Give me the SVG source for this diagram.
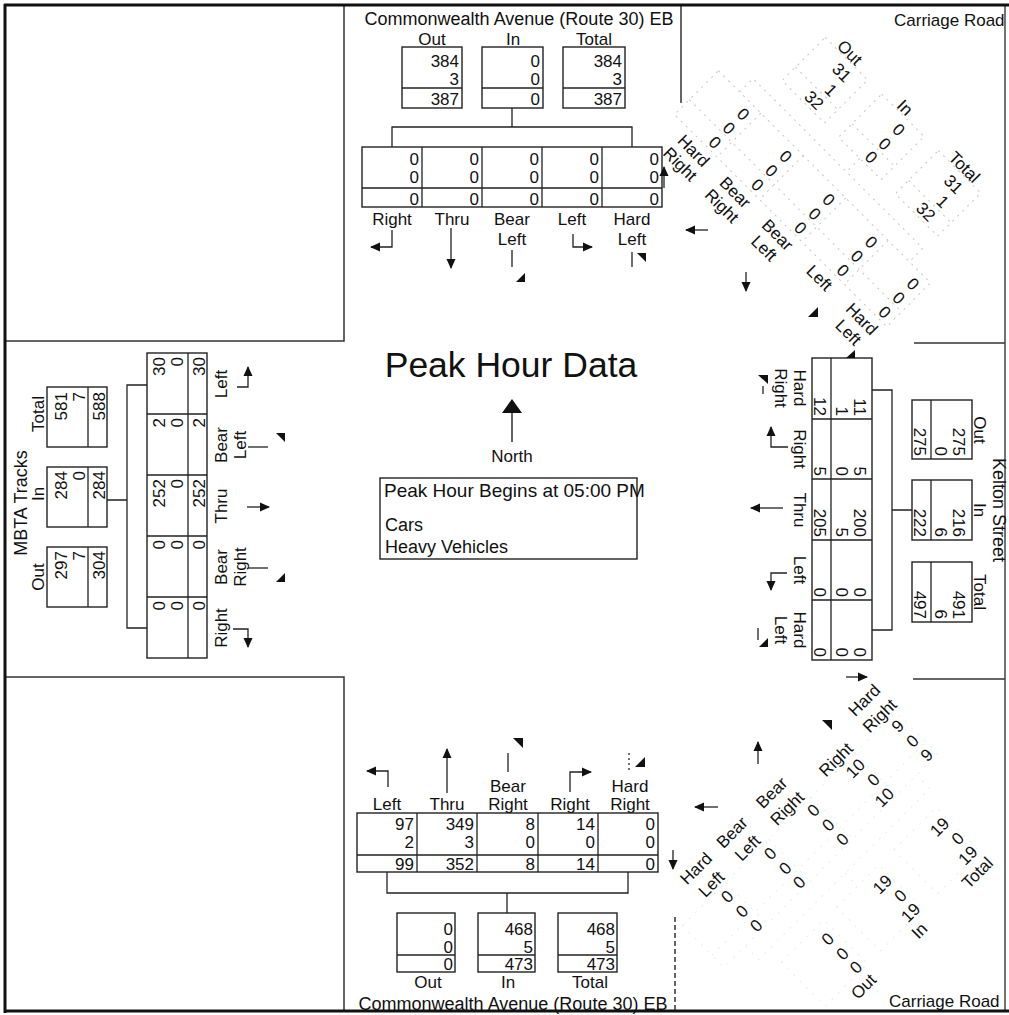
<svg xmlns="http://www.w3.org/2000/svg" width="1009" height="1015" viewBox="0 0 1009 1015">
<style>
text{font-family:"Liberation Sans",Arial,sans-serif;font-size:17px;fill:#111}
.v{text-anchor:end}
.c{text-anchor:middle}
.rd{font-size:18px}
.bx{fill:none;stroke:#222;stroke-width:1.4}
.ln{fill:none;stroke:#222;stroke-width:1.3}
.fr{fill:none;stroke:#111;stroke-width:3}
.qd{fill:none;stroke:#333;stroke-width:1.5}
.fa{fill:none;stroke:#c6c6c6;stroke-width:1;stroke-dasharray:2 5}
.fb{fill:none;stroke:#ebebeb;stroke-width:1;stroke-dasharray:2 7}
.ar{fill:none;stroke:#222;stroke-width:1.3;marker-end:url(#ah)}
.tri{fill:#111;stroke:none}
</style>
<defs>
<marker id="ah" viewBox="0 0 10 10" refX="9" refY="5" markerWidth="10" markerHeight="10" markerUnits="userSpaceOnUse" orient="auto">
<path d="M0,0.5 L10,5 L0,9.5 z" fill="#111"/>
</marker>
</defs>
<rect width="1009" height="1015" fill="#fff"/>

<!-- frame and quadrant lines -->
<g id="frame">
<path class="qd" d="M344,5 V341 H5"/>
<path class="qd" d="M5,677 H344 V1010"/>
<path class="qd" d="M681,5 V103"/>
<path class="qd" d="M914,343 H1005"/>
<path class="qd" d="M913,679 H1005"/>
<path class="qd" d="M675,917 V1010" stroke-dasharray="5 3"/>
<line x1="1005" y1="5" x2="1005" y2="1010" stroke="#444" stroke-width="1.5"/>
</g>

<!-- North approach -->
<g id="node-north-commonwealth">
<text class="c rd" x="519" y="25">Commonwealth Avenue (Route 30) EB</text>
<text class="c" x="432" y="45">Out</text>
<text class="c" x="513" y="45">In</text>
<text class="c" x="594" y="45">Total</text>
<rect class="bx" x="402" y="47" width="60" height="61"/><line class="ln" x1="402" y1="88" x2="462" y2="88"/>
<rect class="bx" x="482" y="47" width="61" height="61"/><line class="ln" x1="482" y1="88" x2="543" y2="88"/>
<rect class="bx" x="563" y="47" width="62" height="61"/><line class="ln" x1="563" y1="88" x2="625" y2="88"/>
<text class="v" x="459" y="67">384</text><text class="v" x="459" y="85">3</text><text class="v" x="459" y="105">387</text>
<text class="v" x="540" y="67">0</text><text class="v" x="540" y="85">0</text><text class="v" x="540" y="105">0</text>
<text class="v" x="622" y="67">384</text><text class="v" x="622" y="85">3</text><text class="v" x="622" y="105">387</text>
<rect class="bx" x="362" y="147" width="300" height="60"/>
<path class="ln" d="M362,188 H662 M422,147 V207 M482,147 V207 M542,147 V207 M602,147 V207"/>
<text class="v" x="419" y="165">0</text><text class="v" x="419" y="183">0</text><text class="v" x="419" y="205">0</text>
<text class="v" x="479" y="165">0</text><text class="v" x="479" y="183">0</text><text class="v" x="479" y="205">0</text>
<text class="v" x="539" y="165">0</text><text class="v" x="539" y="183">0</text><text class="v" x="539" y="205">0</text>
<text class="v" x="599" y="165">0</text><text class="v" x="599" y="183">0</text><text class="v" x="599" y="205">0</text>
<text class="v" x="659" y="165">0</text><text class="v" x="659" y="183">0</text><text class="v" x="659" y="205">0</text>
<text class="c" x="392" y="225">Right</text>
<text class="c" x="452" y="225">Thru</text>
<text class="c" x="512" y="225">Bear</text><text class="c" x="512" y="245">Left</text>
<text class="c" x="572" y="225">Left</text>
<text class="c" x="632" y="225">Hard</text><text class="c" x="632" y="245">Left</text>
</g>

<!-- NE approach (Carriage Road) -->
<g id="node-ne-carriage">
<text x="894" y="26">Carriage Road</text>
<g transform="rotate(45)">
<rect class="fa" x="610" y="-557" width="60" height="61"/><line class="fa" x1="610" y1="-515" x2="670" y2="-515"/>
<rect class="fa" x="690" y="-557" width="60" height="61"/><line class="fa" x1="690" y1="-515" x2="750" y2="-515"/>
<rect class="fa" x="770" y="-557" width="60" height="61"/><line class="fa" x1="770" y1="-515" x2="830" y2="-515"/>
<rect class="fa" x="558" y="-458" width="300" height="62"/>
<path class="fa" d="M558,-417 H858 M618,-458 V-396 M678,-458 V-396 M738,-458 V-396 M798,-458 V-396"/>
<path class="fa" d="M720,-496 V-477 M588,-458 V-477 H828 V-458"/>
<text class="c" x="638" y="-558">Out</text>
<text class="c" x="716" y="-558">In</text>
<text class="c" x="800" y="-558">Total</text>
<text class="v" x="656" y="-538">31</text><text class="v" x="656" y="-518">1</text><text class="v" x="656" y="-499">32</text>
<text class="v" x="732" y="-538">0</text><text class="v" x="732" y="-518">0</text><text class="v" x="732" y="-499">0</text>
<text class="v" x="814" y="-538">31</text><text class="v" x="814" y="-518">1</text><text class="v" x="814" y="-499">32</text>
<text class="v" x="611" y="-439">0</text><text class="v" x="611" y="-419">0</text><text class="v" x="611" y="-399">0</text>
<text class="v" x="671" y="-439">0</text><text class="v" x="671" y="-419">0</text><text class="v" x="671" y="-399">0</text>
<text class="v" x="732" y="-439">0</text><text class="v" x="732" y="-419">0</text><text class="v" x="732" y="-399">0</text>
<text class="v" x="792" y="-439">0</text><text class="v" x="792" y="-419">0</text><text class="v" x="792" y="-399">0</text>
<text class="v" x="851" y="-439">0</text><text class="v" x="851" y="-419">0</text><text class="v" x="851" y="-399">0</text>
<text class="c" x="597" y="-378">Hard</text><text class="c" x="597" y="-359">Right</text>
<text class="c" x="656" y="-378">Bear</text><text class="c" x="656" y="-359">Right</text>
<text class="c" x="716" y="-378">Bear</text><text class="c" x="716" y="-359">Left</text>
<text class="c" x="776" y="-377">Left</text>
<text class="c" x="835" y="-378">Hard</text><text class="c" x="835" y="-359">Left</text>
</g>
</g>

<!-- West approach (MBTA Tracks) -->
<g id="node-west-mbta">
<text class="c rd" transform="translate(27,503) rotate(-90)">MBTA Tracks</text>
<text class="c" transform="translate(44,414) rotate(-90)">Total</text>
<text class="c" transform="translate(44,494) rotate(-90)">In</text>
<text class="c" transform="translate(44,577) rotate(-90)">Out</text>
<rect class="bx" x="47" y="387" width="60" height="60"/><line class="ln" x1="88" y1="387" x2="88" y2="447"/>
<rect class="bx" x="47" y="467" width="60" height="60"/><line class="ln" x1="88" y1="467" x2="88" y2="527"/>
<rect class="bx" x="47" y="547" width="60" height="60"/><line class="ln" x1="88" y1="547" x2="88" y2="607"/>
<text class="v" transform="translate(67,392) rotate(-90)">581</text><text class="v" transform="translate(85,392) rotate(-90)">7</text><text class="v" transform="translate(105,392) rotate(-90)">588</text>
<text class="v" transform="translate(67,471) rotate(-90)">284</text><text class="v" transform="translate(85,471) rotate(-90)">0</text><text class="v" transform="translate(105,471) rotate(-90)">284</text>
<text class="v" transform="translate(67,551) rotate(-90)">297</text><text class="v" transform="translate(85,551) rotate(-90)">7</text><text class="v" transform="translate(105,551) rotate(-90)">304</text>
<rect class="bx" x="147" y="353" width="60" height="305"/>
<path class="ln" d="M188,353 V658 M147,414 H207 M147,475 H207 M147,536 H207 M147,597 H207"/>
<text class="v" transform="translate(165,357) rotate(-90)">30</text><text class="v" transform="translate(183,357) rotate(-90)">0</text><text class="v" transform="translate(205,357) rotate(-90)">30</text>
<text class="v" transform="translate(165,418) rotate(-90)">2</text><text class="v" transform="translate(183,418) rotate(-90)">0</text><text class="v" transform="translate(205,418) rotate(-90)">2</text>
<text class="v" transform="translate(165,479) rotate(-90)">252</text><text class="v" transform="translate(183,479) rotate(-90)">0</text><text class="v" transform="translate(205,479) rotate(-90)">252</text>
<text class="v" transform="translate(165,540) rotate(-90)">0</text><text class="v" transform="translate(183,540) rotate(-90)">0</text><text class="v" transform="translate(205,540) rotate(-90)">0</text>
<text class="v" transform="translate(165,601) rotate(-90)">0</text><text class="v" transform="translate(183,601) rotate(-90)">0</text><text class="v" transform="translate(205,601) rotate(-90)">0</text>
<text class="c" transform="translate(227,384) rotate(-90)">Left</text>
<text class="c" transform="translate(227,445) rotate(-90)">Bear</text><text class="c" transform="translate(246,445) rotate(-90)">Left</text>
<text class="c" transform="translate(227,506) rotate(-90)">Thru</text>
<text class="c" transform="translate(227,567) rotate(-90)">Bear</text><text class="c" transform="translate(246,567) rotate(-90)">Right</text>
<text class="c" transform="translate(227,628) rotate(-90)">Right</text>
</g>

<!-- East approach (Kelton Street) -->
<g id="node-east-kelton">
<text class="c rd" transform="translate(993,510) rotate(90)">Kelton Street</text>
<text class="c" transform="translate(974,430) rotate(90)">Out</text>
<text class="c" transform="translate(974,510) rotate(90)">In</text>
<text class="c" transform="translate(974,592) rotate(90)">Total</text>
<rect class="bx" x="912" y="400" width="60" height="59"/><line class="ln" x1="931" y1="400" x2="931" y2="459"/>
<rect class="bx" x="912" y="480" width="60" height="60"/><line class="ln" x1="931" y1="480" x2="931" y2="540"/>
<rect class="bx" x="912" y="562" width="60" height="60"/><line class="ln" x1="931" y1="562" x2="931" y2="622"/>
<text class="v" transform="translate(953,456) rotate(90)">275</text><text class="v" transform="translate(935,456) rotate(90)">0</text><text class="v" transform="translate(914,456) rotate(90)">275</text>
<text class="v" transform="translate(953,537) rotate(90)">216</text><text class="v" transform="translate(935,537) rotate(90)">6</text><text class="v" transform="translate(914,537) rotate(90)">222</text>
<text class="v" transform="translate(953,619) rotate(90)">491</text><text class="v" transform="translate(935,619) rotate(90)">6</text><text class="v" transform="translate(914,619) rotate(90)">497</text>
<rect class="bx" x="812" y="358" width="60" height="302"/>
<path class="ln" d="M831,358 V660 M812,419 H872 M812,479 H872 M812,540 H872 M812,600 H872"/>
<text class="v" transform="translate(854,416) rotate(90)">11</text><text class="v" transform="translate(836,416) rotate(90)">1</text><text class="v" transform="translate(814,416) rotate(90)">12</text>
<text class="v" transform="translate(854,476) rotate(90)">5</text><text class="v" transform="translate(836,476) rotate(90)">0</text><text class="v" transform="translate(814,476) rotate(90)">5</text>
<text class="v" transform="translate(854,537) rotate(90)">200</text><text class="v" transform="translate(836,537) rotate(90)">5</text><text class="v" transform="translate(814,537) rotate(90)">205</text>
<text class="v" transform="translate(854,597) rotate(90)">0</text><text class="v" transform="translate(836,597) rotate(90)">0</text><text class="v" transform="translate(814,597) rotate(90)">0</text>
<text class="v" transform="translate(854,657) rotate(90)">0</text><text class="v" transform="translate(836,657) rotate(90)">0</text><text class="v" transform="translate(814,657) rotate(90)">0</text>
<text class="c" transform="translate(794,388) rotate(90)">Hard</text><text class="c" transform="translate(775,388) rotate(90)">Right</text>
<text class="c" transform="translate(794,449) rotate(90)">Right</text>
<text class="c" transform="translate(794,510) rotate(90)">Thru</text>
<text class="c" transform="translate(794,570) rotate(90)">Left</text>
<text class="c" transform="translate(794,630) rotate(90)">Hard</text><text class="c" transform="translate(775,630) rotate(90)">Left</text>
</g>

<!-- South approach -->
<g id="node-south-commonwealth">
<text class="c" x="387" y="810">Left</text>
<text class="c" x="447" y="810">Thru</text>
<text class="c" x="508" y="792">Bear</text><text class="c" x="508" y="810">Right</text>
<text class="c" x="570" y="810">Right</text>
<text class="c" x="630" y="792">Hard</text><text class="c" x="630" y="810">Right</text>
<rect class="bx" x="357" y="813" width="301" height="59"/>
<path class="ln" d="M357,855 H658 M417,813 V872 M477,813 V872 M538,813 V872 M598,813 V872"/>
<text class="v" x="414" y="830">97</text><text class="v" x="414" y="848">2</text><text class="v" x="414" y="870">99</text>
<text class="v" x="474" y="830">349</text><text class="v" x="474" y="848">3</text><text class="v" x="474" y="870">352</text>
<text class="v" x="535" y="830">8</text><text class="v" x="535" y="848">0</text><text class="v" x="535" y="870">8</text>
<text class="v" x="595" y="830">14</text><text class="v" x="595" y="848">0</text><text class="v" x="595" y="870">14</text>
<text class="v" x="655" y="830">0</text><text class="v" x="655" y="848">0</text><text class="v" x="655" y="870">0</text>
<rect class="bx" x="397" y="913" width="58" height="59"/><line class="ln" x1="397" y1="955" x2="455" y2="955"/>
<rect class="bx" x="478" y="913" width="57" height="59"/><line class="ln" x1="478" y1="955" x2="535" y2="955"/>
<rect class="bx" x="558" y="913" width="59" height="59"/><line class="ln" x1="558" y1="955" x2="617" y2="955"/>
<text class="v" x="453" y="935">0</text><text class="v" x="453" y="953">0</text><text class="v" x="453" y="970">0</text>
<text class="v" x="533" y="935">468</text><text class="v" x="533" y="953">5</text><text class="v" x="533" y="970">473</text>
<text class="v" x="615" y="935">468</text><text class="v" x="615" y="953">5</text><text class="v" x="615" y="970">473</text>
<text class="c" x="428" y="988">Out</text>
<text class="c" x="508" y="988">In</text>
<text class="c" x="590" y="988">Total</text>
<text class="c rd" x="513" y="1010">Commonwealth Avenue (Route 30) EB</text>
</g>

<!-- SE approach (Carriage Road) -->
<g id="node-se-carriage">
<text x="889" y="1007">Carriage Road</text>
<g transform="rotate(-45)">
<rect class="fb" x="-172" y="1137" width="302" height="59"/>
<path class="fb" d="M-172,1179 H130 M-111,1137 V1196 M-50,1137 V1196 M10,1137 V1196 M72,1137 V1196"/>
<path class="fb" d="M-142,1196 V1215 H100 V1196 M-20,1215 V1233"/>
<rect class="fb" x="-128" y="1233" width="60" height="62"/>
<rect class="fb" x="-50" y="1233" width="60" height="62"/>
<rect class="fb" x="31" y="1233" width="60" height="62"/>
<text class="c" x="-122" y="1112">Hard</text><text class="c" x="-122" y="1134">Left</text>
<text class="c" x="-71" y="1112">Bear</text><text class="c" x="-71" y="1134">Left</text>
<text class="c" x="-15" y="1112">Bear</text><text class="c" x="-15" y="1134">Right</text>
<text class="c" x="54" y="1134">Right</text>
<text class="c" x="116" y="1112">Hard</text><text class="c" x="116" y="1134">Right</text>
<text class="v" x="-115" y="1154">0</text><text class="v" x="-115" y="1175">0</text><text class="v" x="-115" y="1195">0</text>
<text class="v" x="-54" y="1154">0</text><text class="v" x="-54" y="1175">0</text><text class="v" x="-54" y="1195">0</text>
<text class="v" x="7" y="1154">0</text><text class="v" x="7" y="1175">0</text><text class="v" x="7" y="1195">0</text>
<text class="v" x="71" y="1154">10</text><text class="v" x="71" y="1175">0</text><text class="v" x="71" y="1195">10</text>
<text class="v" x="126" y="1154">9</text><text class="v" x="126" y="1175">0</text><text class="v" x="126" y="1195">9</text>
<text class="v" x="-74" y="1255">0</text><text class="v" x="-74" y="1276">0</text><text class="v" x="-74" y="1295">0</text>
<text class="v" x="8" y="1255">19</text><text class="v" x="8" y="1276">0</text><text class="v" x="8" y="1295">19</text>
<text class="v" x="89" y="1255">19</text><text class="v" x="89" y="1276">0</text><text class="v" x="89" y="1295">19</text>
<text class="c" x="-87" y="1314">Out</text>
<text class="c" x="-8" y="1314">In</text>
<text class="c" x="74" y="1314">Total</text>
</g>
</g>

<!-- Title, north arrow, legend -->
<g id="title">
<text class="c" x="511" y="377" style="font-size:35.5px">Peak Hour Data</text>
</g>
<g id="north-arrow">
<line x1="512" y1="442" x2="512" y2="410" stroke="#222" stroke-width="1.4"/>
<polygon class="tri" points="502,413 522,413 512,399"/>
<text class="c" x="512" y="462">North</text>
</g>
<g id="legend">
<rect class="bx" x="380" y="478" width="257" height="81"/>
<text x="384" y="497" style="font-size:19px">Peak Hour Begins at 05:00 PM</text>
<text x="385" y="531" style="font-size:18px">Cars</text>
<text x="385" y="553" style="font-size:18px">Heavy Vehicles</text>
</g>

<!-- Connectors: brackets and movement arrows -->
<g id="connectors">
<path class="ln" d="M512,108 V127 M392,147 V127 H632 V147"/>
<path class="ln" d="M107,500 H127 M147,385 H127 V628 H147"/>
<path class="ln" d="M872,390 H892 V630 H872 M892,510 H912"/>
<path class="ln" d="M387,872 V893 H628 V872 M507,893 V913"/>
<!-- north movements -->
<path class="ar" d="M392,230 V247 H371"/>
<path class="ar" d="M451,228 V268"/>
<path class="ln" d="M512,250 V267"/><polygon class="tri" points="516,282 525,282 525,273"/>
<path class="ar" d="M573,234 V247 H592"/>
<path class="ln" d="M632,252 V267"/><polygon class="tri" points="637,253 646,253 646,262"/>
<!-- NE movements -->
<path class="ar" d="M664,188 V167"/>
<path class="ar" d="M708,230 H686"/>
<path class="ar" d="M746,272 V291"/>
<polygon class="tri" points="808,317 818,317 818,307"/>
<polygon class="tri" points="846,358 855,358 855,350"/>
<!-- west movements -->
<path class="ar" d="M237,387 H248 V367"/>
<path class="ln" d="M248,447 H268"/><polygon class="tri" points="276,433 285,433 285,442"/>
<path class="ar" d="M247,507 H269"/>
<path class="ln" d="M248,568 H268"/><polygon class="tri" points="276,582 285,582 285,573"/>
<path class="ar" d="M233,629 H248 V647"/>
<!-- east movements -->
<path class="ln" d="M763,386 V394"/><polygon class="tri" points="758,375 768,375 768,384"/>
<path class="ar" d="M788,447 H771 V427"/>
<path class="ar" d="M783,508 H751"/>
<path class="ar" d="M787,573 H771 V590"/>
<path class="ln" d="M758,628 V640"/><polygon class="tri" points="759,647 768,647 768,638"/>
<!-- south movements -->
<path class="ar" d="M388,787 V771 H367"/>
<path class="ar" d="M447,793 V749"/>
<path class="ln" d="M508,753 V772"/><polygon class="tri" points="513,738 523,738 523,748"/>
<path class="ar" d="M570,792 V772 H591"/>
<path class="ln" d="M629,753 V772" stroke-dasharray="2 3"/><polygon class="tri" points="635,767 645,767 645,757"/>
<!-- SE movements -->
<path class="ar" d="M673,850 V869"/>
<path class="ar" d="M718,807 H695"/>
<path class="ar" d="M758,764 V742"/>
<polygon class="tri" points="822,720 832,720 832,730"/>
<path class="ar" d="M846,677 H867"/>
</g>

<!-- outer frame drawn last -->
<path class="fr" d="M4,5 H1009 M5,4 V1013 M4,1011 H1009"/>
</svg>
